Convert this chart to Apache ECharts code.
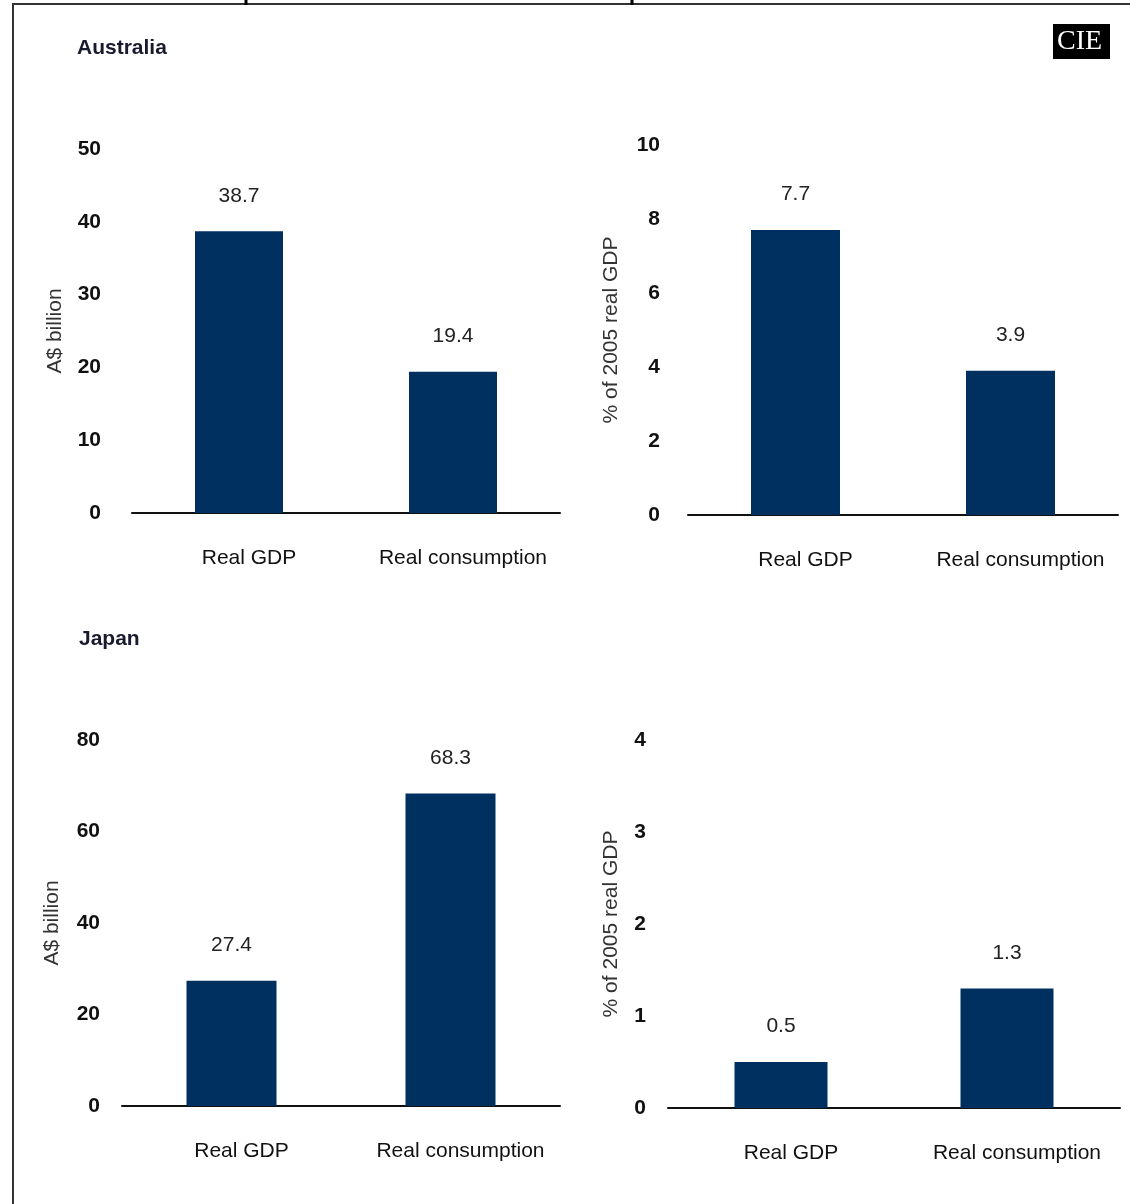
<!DOCTYPE html>
<html>
<head>
<meta charset="utf-8">
<script src="https://cdn.jsdelivr.net/npm/echarts@6/dist/echarts.min.js"></script>
<style>
  html, body { margin: 0; padding: 0; background: #ffffff; }
  #chart { width: 1130px; height: 1204px; }
</style>
</head>
<body>
<div id="chart"></div>
<script>
// Categories shared by all four panels
const categories = ['Real GDP', 'Real consumption'];

// Australia
const ausBillion = [38.7, 19.4];   // A$ billion
const ausShare = [7.7, 3.9];       // % of 2005 real GDP

// Japan
const jpnBillion = [27.4, 68.3];   // A$ billion
const jpnShare = [0.5, 1.3];       // % of 2005 real GDP

// Y-axis scales
const ausBillionAxis = { min: 0, max: 50, interval: 10 };
const ausShareAxis = { min: 0, max: 10, interval: 2 };
const jpnBillionAxis = { min: 0, max: 80, interval: 20 };
const jpnShareAxis = { min: 0, max: 4, interval: 1 };

const panelTitles = ['Australia', 'Japan'];
const unitBillion = 'A$ billion';
const unitShare = '% of 2005 real GDP';

const FONT = '"Liberation Sans", Arial, sans-serif';
const BAR = '#00305f';

const chart = echarts.init(document.getElementById('chart'), null, { renderer: 'canvas' });

const grids = [
  { left: 132, top: 149, width: 428, height: 364 },
  { left: 688, top: 145, width: 430, height: 370 },
  { left: 122, top: 740, width: 438, height: 366 },
  { left: 668, top: 740, width: 452, height: 368 }
];

function xAxis(i) {
  return {
    type: 'category',
    gridIndex: i,
    data: categories,
    axisLine: { lineStyle: { color: '#111', width: 2 } },
    axisTick: { show: false },
    axisLabel: {
      interval: 0,
      margin: 35,
      color: '#111',
      fontFamily: FONT,
      fontSize: 21,
      padding: [0, 0, 0, 20]
    }
  };
}

function yAxis(i, scale, name, nameGap, labelMargin) {
  return {
    type: 'value',
    gridIndex: i,
    min: scale.min,
    max: scale.max,
    interval: scale.interval,
    name: name,
    nameLocation: 'middle',
    nameGap: nameGap,
    nameTextStyle: { color: '#333', fontFamily: FONT, fontSize: 21 },
    axisLine: { show: false },
    axisTick: { show: false },
    splitLine: { show: false },
    axisLabel: {
      margin: labelMargin,
      color: '#111',
      fontFamily: FONT,
      fontWeight: 'bold',
      fontSize: 21
    }
  };
}

function barSeries(i, data, width) {
  return {
    type: 'bar',
    xAxisIndex: i,
    yAxisIndex: i,
    data: data,
    barWidth: width,
    itemStyle: { color: BAR },
    label: {
      show: true,
      position: 'top',
      distance: 25,
      color: '#222',
      fontFamily: FONT,
      fontSize: 21,
      formatter: p => p.value.toFixed(1)
    }
  };
}

const option = {
  animation: false,
  backgroundColor: '#ffffff',
  grid: grids,
  xAxis: [xAxis(0), xAxis(1), xAxis(2), xAxis(3)],
  yAxis: [
    yAxis(0, ausBillionAxis, unitBillion, 66, 31),
    yAxis(1, ausShareAxis, unitShare, 66, 28),
    yAxis(2, jpnBillionAxis, unitBillion, 59, 22),
    yAxis(3, jpnShareAxis, unitShare, 46, 22)
  ],
  series: [
    barSeries(0, ausBillion, 88),
    barSeries(1, ausShare, 89),
    barSeries(2, jpnBillion, 90),
    barSeries(3, jpnShare, 93)
  ],
  graphic: [
    // frame
    { type: 'line', shape: { x1: 12, y1: 4, x2: 1130, y2: 4 }, style: { stroke: '#333', lineWidth: 2 } },
    { type: 'line', shape: { x1: 13, y1: 4, x2: 13, y2: 1204 }, style: { stroke: '#333', lineWidth: 2 } },
    { type: 'line', shape: { x1: 246, y1: 0, x2: 246, y2: 5 }, style: { stroke: '#000', lineWidth: 3 } },
    { type: 'line', shape: { x1: 632, y1: 0, x2: 632, y2: 5 }, style: { stroke: '#000', lineWidth: 3 } },
    // panel titles
    { type: 'text', left: 77, top: 38, style: { text: panelTitles[0], fill: '#1a1a2e', font: 'bold 21px ' + FONT } },
    { type: 'text', left: 79, top: 629, style: { text: panelTitles[1], fill: '#1a1a2e', font: 'bold 21px ' + FONT } },
    // logo
    { type: 'rect', shape: { x: 1053, y: 24, width: 57, height: 35 }, style: { fill: '#000' } },
    { type: 'text', left: 1057, top: 28, style: { text: 'CIE', fill: '#fff', font: '28px "Liberation Serif", serif' } }
  ]
};

chart.setOption(option);
</script>
</body>
</html>
